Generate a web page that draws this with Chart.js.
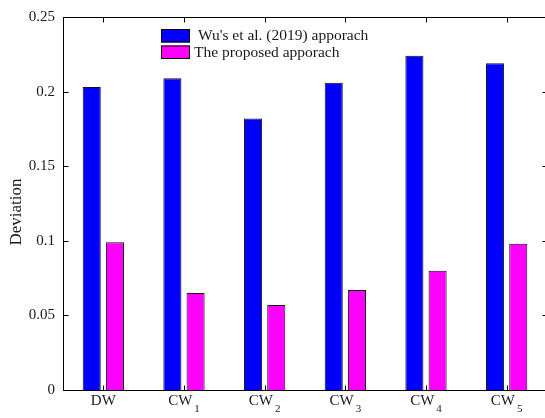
<!DOCTYPE html>
<html>
<head>
<meta charset="utf-8">
<script src="https://cdn.jsdelivr.net/npm/chart.js@4"></script>
<style>
  html, body { margin: 0; padding: 0; background: #fff; overflow: hidden; }
  #wrap { position: relative; width: 552px; height: 418px; }
</style>
</head>
<body>
<div id="wrap"><canvas id="c" width="552" height="418"></canvas></div>
<script>
// Categories: base name plus subscript index
const categoryNames = ['DW', 'CW', 'CW', 'CW', 'CW', 'CW'];
const categorySubs  = ['', '1', '2', '3', '4', '5'];

// Deviation per category
const wuValues       = [0.203, 0.209, 0.182, 0.206, 0.224, 0.219];
const proposedValues = [0.099, 0.065, 0.057, 0.067, 0.080, 0.098];

// Y axis ticks
const yTickValues = [0, 0.05, 0.1, 0.15, 0.2, 0.25];
const yTickLabels = ['0', '0.05', '0.1', '0.15', '0.2', '0.25'];

const seriesNames = [" Wu's et al. (2019) apporach", 'The proposed apporach'];
const yTitle = 'Deviation';

const SERIF = "'Liberation Serif', 'Times New Roman', serif";
const INK = '#1a1a1a';

// Frame, inward tick marks, subscripted category labels, axis title and legend
const decorations = {
  id: 'decorations',
  afterDatasetsDraw(chart) {
    const { ctx, chartArea: a, scales: { x, y } } = chart;
    const L = Math.round(a.left) + 0.5, R = Math.round(a.right) + 0.5;
    const T = Math.round(a.top) + 0.5, B = Math.round(a.bottom) + 0.5;
    const tick = 5;
    ctx.save();
    ctx.strokeStyle = '#000';
    ctx.lineWidth = 1;
    ctx.strokeRect(L, T, R - L, B - T);
    ctx.beginPath();
    yTickValues.forEach(v => {
      const py = Math.round(y.getPixelForValue(v)) + 0.5;
      ctx.moveTo(L, py); ctx.lineTo(L + tick, py);
      ctx.moveTo(R, py); ctx.lineTo(R - tick, py);
    });
    categoryNames.forEach((_, i) => {
      const px = Math.round(x.getPixelForValue(i)) + 0.5;
      ctx.moveTo(px, B); ctx.lineTo(px, B - tick);
      ctx.moveTo(px, T); ctx.lineTo(px, T + tick);
    });
    ctx.stroke();

    // Category labels with subscripts
    ctx.fillStyle = INK;
    ctx.textBaseline = 'alphabetic';
    ctx.textAlign = 'left';
    const mainFont = '15px ' + SERIF, subFont = '11px ' + SERIF;
    categoryNames.forEach((name, i) => {
      const cx = x.getPixelForValue(i);
      ctx.font = mainFont;
      const wm = ctx.measureText(name).width;
      ctx.font = subFont;
      const sub = categorySubs[i];
      const ws = sub ? ctx.measureText(sub).width + 2 : 0;
      const x0 = cx - (wm + ws) / 2;
      ctx.font = mainFont;
      ctx.fillText(name, x0, 405);
      if (sub) {
        ctx.font = subFont;
        ctx.fillText(sub, x0 + wm + 2, 412);
      }
    });

    // Y axis title
    ctx.save();
    ctx.translate(17, 212);
    ctx.rotate(-Math.PI / 2);
    ctx.font = '17px ' + SERIF;
    ctx.textAlign = 'center';
    ctx.textBaseline = 'middle';
    ctx.fillText(yTitle, 0, 0);
    ctx.restore();

    // Legend
    const boxX = 161, boxW = 29, boxH = 13.5;
    const rows = [29, 45.5];
    chart.data.datasets.forEach((ds, i) => {
      const by = rows[i];
      ctx.fillStyle = ds.backgroundColor;
      ctx.fillRect(boxX, by, boxW, boxH);
      ctx.strokeStyle = '#000';
      ctx.strokeRect(boxX + 0.5, by + 0.5, boxW - 1, boxH - 1);
      ctx.fillStyle = INK;
      ctx.font = '15.5px ' + SERIF;
      ctx.textAlign = 'left';
      ctx.textBaseline = 'middle';
      ctx.fillText(ds.label, 194, by + boxH / 2 + 0.5);
    });
    ctx.restore();
  }
};

new Chart(document.getElementById('c'), {
  type: 'bar',
  data: {
    labels: categoryNames.map((n, i) => n + categorySubs[i]),
    datasets: [
      {
        label: seriesNames[0],
        data: wuValues,
        backgroundColor: '#0000ff',
        borderColor: '#111',
        borderWidth: 1,
        categoryPercentage: 0.575,
        barPercentage: 0.78
      },
      {
        label: seriesNames[1],
        data: proposedValues,
        backgroundColor: '#ff00ff',
        borderColor: '#111',
        borderWidth: 1,
        categoryPercentage: 0.575,
        barPercentage: 0.78
      }
    ]
  },
  options: {
    responsive: false,
    animation: false,
    devicePixelRatio: 1,
    layout: { padding: { top: 17, right: 5, left: 0, bottom: 0 } },
    plugins: { legend: { display: false }, tooltip: { enabled: false } },
    scales: {
      x: {
        grid: { display: false, drawTicks: false },
        border: { display: false },
        ticks: { display: false },
        afterFit(scale) { scale.height = 28; }
      },
      y: {
        min: 0,
        max: 0.25,
        grid: { display: false, drawTicks: false },
        border: { display: false },
        afterBuildTicks(scale) { scale.ticks = yTickValues.map(v => ({ value: v })); },
        ticks: {
          padding: 8,
          color: INK,
          font: { family: SERIF, size: 15 },
          callback: (v, i) => yTickLabels[i]
        },
        afterFit(scale) { scale.width = 63; }
      }
    }
  },
  plugins: [decorations]
});
</script>
</body>
</html>
